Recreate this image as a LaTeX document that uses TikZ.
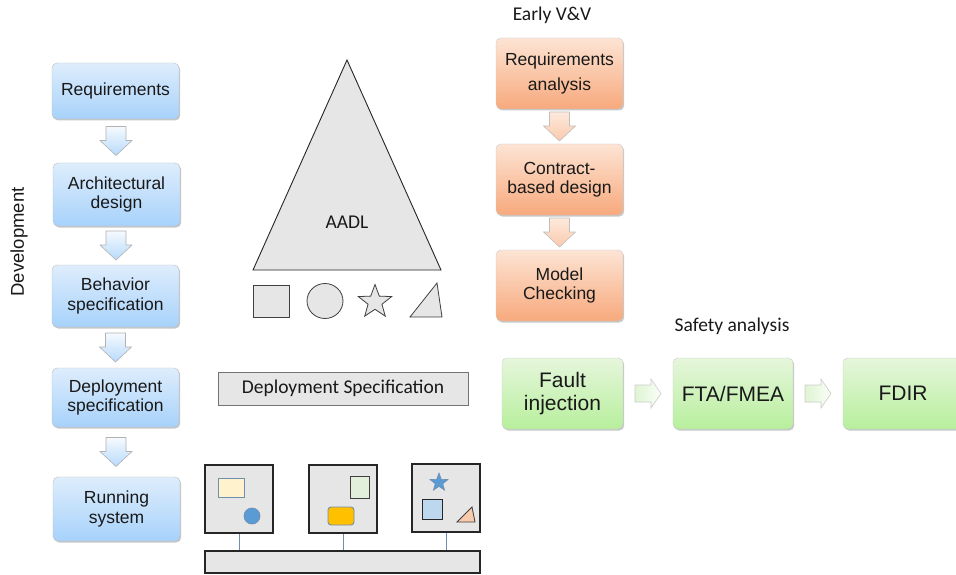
\documentclass[tikz,border=0pt]{standalone}
\usepackage{fontspec}
\setmainfont{Liberation Sans}
\newfontfamily\calibrifont{Carlito}
\usetikzlibrary{shapes.geometric,shadows,calc}

\definecolor{devtop}{HTML}{DEEDFC}
\definecolor{devbot}{HTML}{A7D2FB}
\definecolor{vvtop}{HTML}{FDE4D4}
\definecolor{vvbot}{HTML}{F7A97C}
\definecolor{sftop}{HTML}{E6F6DC}
\definecolor{sfbot}{HTML}{B7EF9C}
\definecolor{boxgray}{HTML}{E6E6E6}
\definecolor{steel}{HTML}{6F8FB0}
\definecolor{dotblue}{HTML}{5B9BD5}
\definecolor{paleyellow}{HTML}{FFF2CC}
\definecolor{palegreen}{HTML}{E2EFDA}
\definecolor{amber}{HTML}{FFC000}
\definecolor{paleblue}{HTML}{BDD7EE}
\definecolor{peach}{HTML}{F8CBAD}

\begin{document}
\begin{tikzpicture}[x=1pt,y=-1pt,
  softshadow/.style={drop shadow={shadow xshift=1.2pt,shadow yshift=-1.5pt,opacity=0.22,fill=black}},
  stagebox/.style={rectangle,rounded corners=5pt,inner sep=0pt,align=center,
    text=black!90,softshadow},
  devbox/.style={stagebox,draw=black!25,top color=devtop,bottom color=devbot,
    minimum width=127pt,font=\fontsize{17.5}{19.5}\selectfont},
  vvbox/.style={stagebox,draw=black!20,top color=vvtop,bottom color=vvbot,
    minimum width=127pt,minimum height=71pt,font=\fontsize{17.5}{19}\selectfont},
  sfbox/.style={stagebox,draw=black!20,top color=sftop,bottom color=sfbot,
    minimum height=71pt,font=\fontsize{21}{23}\selectfont},
  caption/.style={font=\calibrifont\fontsize{19.5}{22}\selectfont,text=black!90},
  graybox/.style={rectangle,fill=boxgray,inner sep=0pt},
  platform/.style={graybox,draw=black!85,line width=1.8pt,minimum width=68pt,minimum height=68pt},
  downarrow/.pic={\path[pic actions] (-10,-14.5) -- (10,-14.5) -- (10,-0.5) -- (16,-0.5)
      -- (0,14.5) -- (-16,-0.5) -- (-10,-0.5) -- cycle;},
  rightarrow/.pic={\path[pic actions] (-13,-8.5) -- (3,-8.5) -- (3,-14.5) -- (13,0)
      -- (3,14.5) -- (3,8.5) -- (-13,8.5) -- cycle;},
  devarrow/.style={draw=black!30,line width=0.6pt,top color=white!70!devtop,bottom color=devbot!70!devtop},
  vvarrow/.style={draw=black!25,line width=0.6pt,top color=vvtop!80!white,bottom color=vvbot!45!vvtop},
  sfarrow/.style={draw=black!20,line width=0.6pt,left color=sftop!85!sfbot,right color=white!80!sftop},
]
\clip (0,0) rectangle (956,575);
\fill[white] (0,0) rectangle (956,575);

% development flow
\node[rotate=90,font=\fontsize{18.5}{20}\selectfont,text=black!90] (devlabel) at (19,242) {Development};
\node[devbox,minimum height=56pt] (req)  at (115.5,91)    {Requirements};
\node[devbox,minimum height=63pt] (arch) at (116.5,194.5) {Architectural\\design};
\node[devbox,minimum height=62pt] (beh)  at (115.5,296)   {Behavior\\specification};
\node[devbox,minimum height=59pt] (dep)  at (115.5,397.5) {Deployment\\specification};
\node[devbox,minimum height=64pt] (run)  at (116.5,509)   {Running\\system};

\pic[devarrow] at ($(req.south)!0.5!(arch.north)$) {downarrow};
\pic[devarrow] at ($(arch.south)!0.5!(beh.north)$) {downarrow};
\pic[devarrow] at ($(beh.south)!0.5!(dep.north)$) {downarrow};
\pic[devarrow] at ($(dep.south)!0.5!(run.north)$) {downarrow};

% AADL language
\path[draw=black!85,line width=0.9pt,fill=boxgray] (347,60) -- (441,270) -- (253,270) -- cycle;
\node[caption] (aadl) at (347,222) {AADL};
\node[graybox,draw=black!75,line width=0.8pt,minimum width=36pt,minimum height=32pt] (sq) at (271,301) {};
\node[graybox,draw=black!75,line width=0.8pt,ellipse,minimum width=36pt,minimum height=35pt] (el) at (325,301) {};
\node[graybox,draw=black!75,line width=0.8pt,star,star points=5,star point ratio=2.4,minimum size=35pt] (st) at (375,302) {};
\path[draw=black!75,line width=0.8pt,fill=boxgray] (410,317) -- (442,317) -- (437,283) -- cycle;

% deployment
\node[graybox,draw=black!55,line width=1pt,minimum width=250pt,minimum height=33pt,caption] (depspec) at (343,388.5) {Deployment Specification};

\node[platform] (p1) at (239,499) {};
\node[platform] (p2) at (343,499) {};
\node[platform] (p3) at (446,498) {};
\node[graybox,draw=black!85,line width=1.8pt,minimum width=275pt,minimum height=22pt] (bus) at (342.5,562) {};
\foreach \p in {p1,p2,p3}
  \draw[steel,line width=1pt] (\p.south) -- (\p.south |- bus.north);

\node[rectangle,draw=steel,fill=paleyellow,line width=0.9pt,minimum width=26pt,minimum height=19pt,inner sep=0pt] (r1) at (231,487.5) {};
\node[circle,draw=steel,fill=dotblue,line width=0.7pt,minimum size=16pt,inner sep=0pt] (c1) at (252,516) {};
\node[rectangle,draw=black!75,fill=palegreen,line width=1pt,minimum width=19pt,minimum height=22pt,inner sep=0pt] (r2) at (359.5,487) {};
\node[rectangle,rounded corners=3pt,draw=steel,fill=amber,line width=0.9pt,minimum width=26pt,minimum height=18pt,inner sep=0pt] (r3) at (341,516) {};
\node[star,star points=5,star point ratio=2.4,draw=steel,fill=dotblue,line width=0.6pt,minimum size=19pt,inner sep=0pt] (s3) at (439,482.5) {};
\node[rectangle,draw=black!85,fill=paleblue,line width=1pt,minimum width=20pt,minimum height=20pt,inner sep=0pt] (q3) at (432,509) {};
\path[draw=black!75,fill=peach,line width=0.8pt] (457,522) -- (475,522) -- (472,507) -- cycle;

% early verification and validation
\node[caption] (vvlabel) at (552,15) {Early V\&V};
\node[vvbox] (ra)  at (559.5,73.5)  {Requirements\\[6pt]analysis};
\node[vvbox] (cbd) at (559.5,179.5) {Contract-\\based design};
\node[vvbox] (mc)  at (559.5,285.5) {Model\\Checking};
\pic[vvarrow] at ($(ra.south)!0.5!(cbd.north)$) {downarrow};
\pic[vvarrow] at ($(cbd.south)!0.5!(mc.north)$) {downarrow};

% safety analysis
\node[caption] (sflabel) at (732,326) {Safety analysis};
\node[sfbox,minimum width=121pt] (fi)   at (562.5,393.5) {Fault\\injection};
\node[sfbox,minimum width=120pt] (fta)  at (733,393.5)   {FTA/FMEA};
\node[sfbox,minimum width=120pt] (fdir) at (903,393.5)   {FDIR};
\pic[sfarrow] at ($(fi.east)!0.5!(fta.west)$) {rightarrow};
\pic[sfarrow] at ($(fta.east)!0.5!(fdir.west)$) {rightarrow};
\end{tikzpicture}
\end{document}
